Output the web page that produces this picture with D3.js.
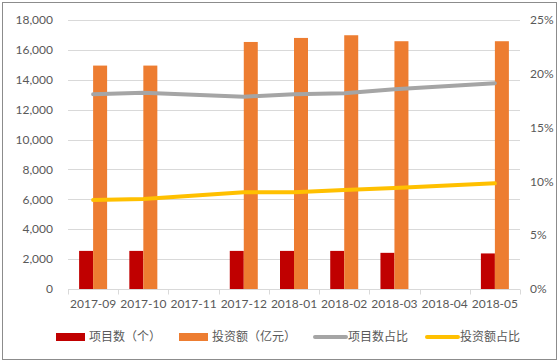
<!DOCTYPE html>
<html>
<head>
<meta charset="utf-8">
<script src="https://cdn.jsdelivr.net/npm/d3@7"></script>
<style>
  body { margin: 0; background: #fff; }
  svg { display: block; font-family: Lato, "Noto Sans CJK SC", sans-serif; }
</style>
</head>
<body>
<div id="chart"></div>
<script>
const months = ['2017-09', '2017-10', '2017-11', '2017-12', '2018-01', '2018-02', '2018-03', '2018-04', '2018-05'];
const projectCount = [2550, 2550, null, 2550, 2550, 2550, 2420, null, 2380];
const investAmount = [14950, 14950, null, 16530, 16800, 16980, 16580, null, 16580];
const projectShare = [18.1, 18.25, null, 17.87, 18.1, 18.2, 18.56, null, 19.12];
const investShare = [8.27, 8.36, null, 8.99, 9.0, 9.2, 9.39, null, 9.82];
const leftTicks = [0, 2000, 4000, 6000, 8000, 10000, 12000, 14000, 16000, 18000];
const rightTicks = [0, 5, 10, 15, 20, 25];
const legendItems = [
    { label: '项目数（个）', color: '#c00000', type: 'bar' },
    { label: '投资额（亿元）', color: '#ed7d31', type: 'bar' },
    { label: '项目数占比', color: '#a5a5a5', type: 'line' },
    { label: '投资额占比', color: '#ffc000', type: 'line' },
];

const width = 559;
const height = 363;
const margin = { left: 68, right: 39, top: 20, bottom: 74 };

const svg = d3.select('#chart')
    .append('svg')
    .attr('width', width)
    .attr('height', height);

// outer frame
svg.append('rect')
    .attr('x', 2.5).attr('y', 2.5)
    .attr('width', width - 5).attr('height', height - 6)
    .attr('fill', 'none')
    .attr('stroke', '#8c8c8c')
    .attr('stroke-width', 1);

const x = d3.scaleBand()
    .domain(months)
    .range([margin.left, width - margin.right]);

const yLeft = d3.scaleLinear()
    .domain([0, 18000])
    .range([height - margin.bottom, margin.top]);

const yRight = d3.scaleLinear()
    .domain([0, 25])
    .range([height - margin.bottom, margin.top]);

// gridlines
svg.append('g')
    .selectAll('line')
    .data(leftTicks.slice(1))
    .join('line')
    .attr('x1', margin.left)
    .attr('x2', width - margin.right)
    .attr('y1', d => Math.round(yLeft(d)) + 0.5)
    .attr('y2', d => Math.round(yLeft(d)) + 0.5)
    .attr('stroke', '#d9d9d9')
    .attr('stroke-width', 1);

// left axis labels
svg.append('g')
    .selectAll('text')
    .data(leftTicks)
    .join('text')
    .attr('x', 53)
    .attr('y', d => yLeft(d))
    .attr('dy', '0.35em')
    .attr('text-anchor', 'end')
    .attr('fill', '#595959')
    .attr('font-size', '12px')
    .text(d => d3.format(',')(d));

// right axis labels
svg.append('g')
    .selectAll('text')
    .data(rightTicks)
    .join('text')
    .attr('x', 530)
    .attr('y', d => yRight(d))
    .attr('dy', '0.35em')
    .attr('text-anchor', 'start')
    .attr('fill', '#595959')
    .attr('font-size', '12px')
    .text(d => d + '%');

// bars
const barW = 14;
svg.append('g')
    .selectAll('rect')
    .data(months.map((m, i) => ({ m, v: projectCount[i] })).filter(d => d.v != null))
    .join('rect')
    .attr('x', d => x(d.m) + x.bandwidth() / 2 - barW)
    .attr('y', d => yLeft(d.v))
    .attr('width', barW)
    .attr('height', d => yLeft(0) - yLeft(d.v))
    .attr('fill', '#c00000');

svg.append('g')
    .selectAll('rect')
    .data(months.map((m, i) => ({ m, v: investAmount[i] })).filter(d => d.v != null))
    .join('rect')
    .attr('x', d => x(d.m) + x.bandwidth() / 2)
    .attr('y', d => yLeft(d.v))
    .attr('width', barW)
    .attr('height', d => yLeft(0) - yLeft(d.v))
    .attr('fill', '#ed7d31');

// x axis line + ticks
const axisY = Math.round(yLeft(0)) + 0.5;
svg.append('line')
    .attr('x1', margin.left)
    .attr('x2', width - margin.right)
    .attr('y1', axisY)
    .attr('y2', axisY)
    .attr('stroke', '#d9d9d9');

const boundaries = months.map(m => x(m)).concat([x(months[months.length - 1]) + x.bandwidth()]);
svg.append('g')
    .selectAll('line')
    .data(boundaries)
    .join('line')
    .attr('x1', d => Math.round(d) + 0.5)
    .attr('x2', d => Math.round(d) + 0.5)
    .attr('y1', axisY)
    .attr('y2', axisY + 5)
    .attr('stroke', '#d9d9d9');

svg.append('g')
    .selectAll('text')
    .data(months)
    .join('text')
    .attr('x', d => x(d) + x.bandwidth() / 2)
    .attr('y', 304)
    .attr('dy', '0.35em')
    .attr('text-anchor', 'middle')
    .attr('fill', '#595959')
    .attr('font-size', '12px')
    .text(d => d);

// lines (gaps are skipped, points joined across them)
function drawLine(values, color) {
    const pts = months.map((m, i) => ({ m, v: values[i] })).filter(d => d.v != null);
    svg.append('path')
        .datum(pts)
        .attr('fill', 'none')
        .attr('stroke', color)
        .attr('stroke-width', 4)
        .attr('stroke-linejoin', 'round')
        .attr('stroke-linecap', 'round')
        .attr('d', d3.line()
            .x(d => x(d.m) + x.bandwidth() / 2)
            .y(d => yRight(d.v)));
}
drawLine(projectShare, '#a5a5a5');
drawLine(investShare, '#ffc000');

// legend
const legendX = [56, 179, 315, 427];
const legendY = 337;
const legend = svg.append('g');
legendItems.forEach((item, i) => {
    const gx = legendX[i];
    if (item.type === 'bar') {
        legend.append('rect')
            .attr('x', gx).attr('y', legendY - 4)
            .attr('width', 29).attr('height', 8)
            .attr('fill', item.color);
    } else {
        legend.append('line')
            .attr('x1', gx).attr('x2', gx + 31)
            .attr('y1', legendY).attr('y2', legendY)
            .attr('stroke', item.color)
            .attr('stroke-width', 4)
            .attr('stroke-linecap', 'round');
    }
    legend.append('text')
        .attr('x', gx + 33)
        .attr('y', legendY)
        .attr('dy', '0.35em')
        .attr('fill', '#595959')
        .attr('font-size', '12px')
        .text(item.label);
});
</script>
</body>
</html>
